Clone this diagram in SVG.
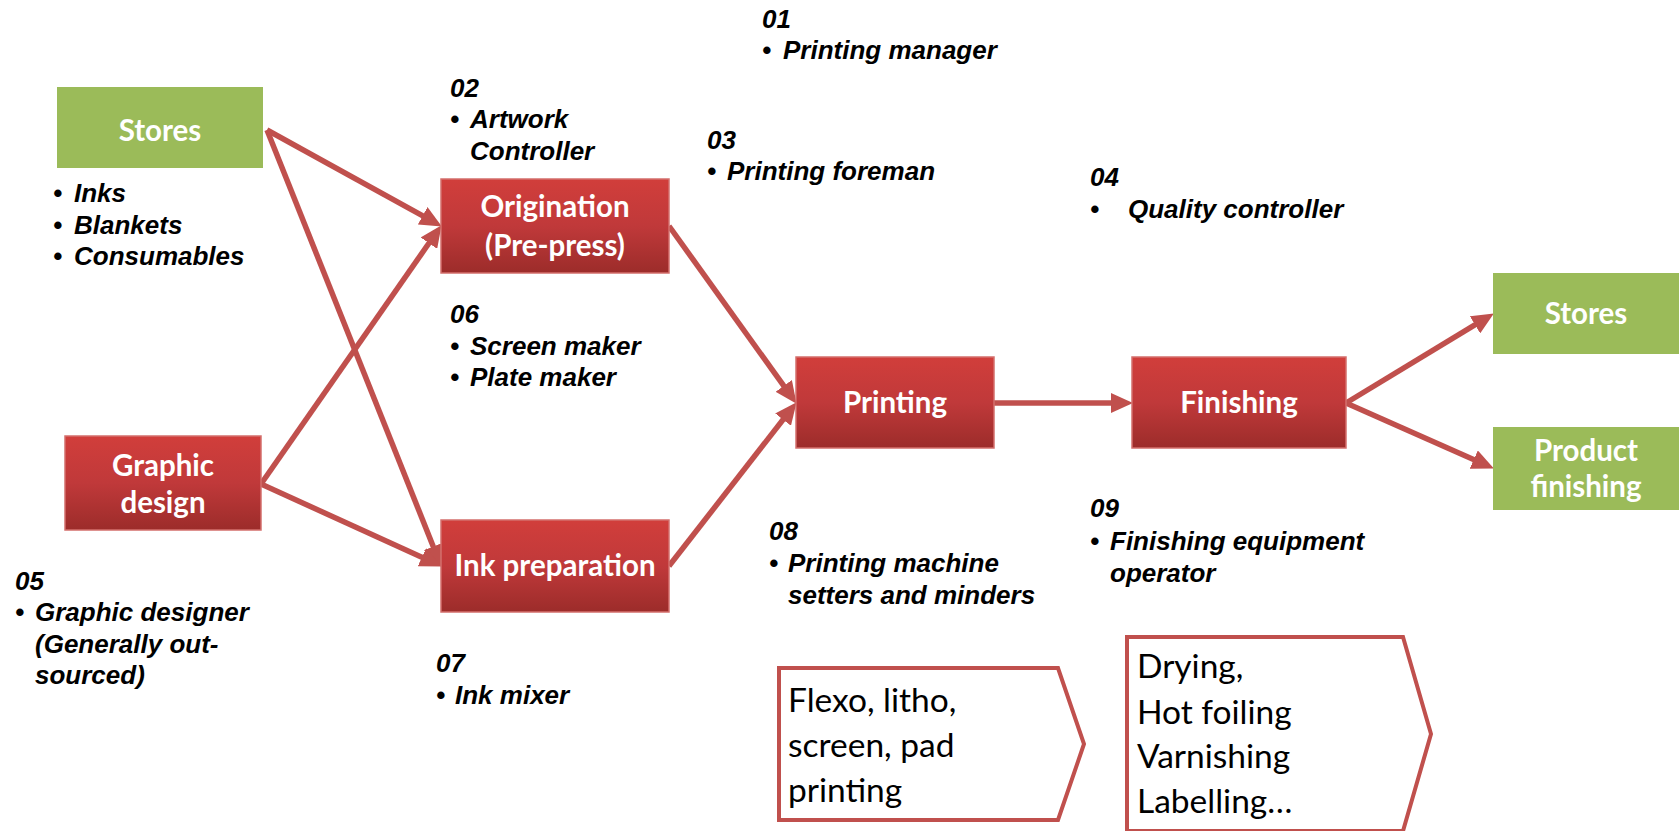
<svg xmlns="http://www.w3.org/2000/svg" width="1679" height="831" viewBox="0 0 1679 831">
<defs>
<linearGradient id="redg" x1="0" y1="0" x2="0" y2="1">
<stop offset="0" stop-color="#D13E3B"/>
<stop offset="0.5" stop-color="#C0393A"/>
<stop offset="1" stop-color="#9C2C2A"/>
</linearGradient>
<marker id="ah" markerUnits="userSpaceOnUse" markerWidth="22" markerHeight="20" viewBox="0 0 22 20" refX="9" refY="10" orient="auto">
<path d="M0,0 L22,10 L0,20 z" fill="#C0504D"/>
</marker>
<style>
.red{fill:url(#redg);stroke:#D46F6C;stroke-width:1.5}
.green{fill:#9BBB59}
.bt{font-family:Lato,"Open Sans",sans-serif;font-weight:bold;font-size:29.5px;fill:#FFFFFF;text-anchor:middle}
.lab{font-family:"Liberation Sans",Arial,sans-serif;font-weight:bold;font-style:italic;font-size:26px;fill:#000000}
.pt{font-family:Lato,"Open Sans",sans-serif;font-size:33.5px;fill:#000000}
.pent{fill:#FFFFFF;stroke:#C0504D;stroke-width:4}
.con{stroke:#C0504D;stroke-width:5.5;fill:none;marker-end:url(#ah)}
</style>
</defs>
<rect width="1679" height="831" fill="#FFFFFF"/>

<g id="connectors">
<line class="con" x1="267" y1="130" x2="430.5" y2="220.2"/>
<line class="con" x1="267" y1="130" x2="436.6" y2="554.9"/>
<line class="con" x1="261" y1="484" x2="434.1" y2="235.8"/>
<line class="con" x1="261" y1="484" x2="430.1" y2="561"/>
<line class="con" x1="669" y1="226" x2="789" y2="393.2"/>
<line class="con" x1="669" y1="566" x2="788.6" y2="412.5"/>
<line class="con" x1="994" y1="403" x2="1120" y2="403"/>
<line class="con" x1="1346" y1="403" x2="1482.7" y2="320.2"/>
<line class="con" x1="1346" y1="403" x2="1482" y2="463.2"/>
</g>

<g id="stores-in">
<rect class="green" x="57" y="87" width="206" height="81"/>
<text class="bt" x="160" y="141">Stores</text>
</g>
<g id="graphic-design">
<rect class="red" x="65" y="436" width="196" height="94"/>
<text class="bt" x="163" y="476">Graphic</text>
<text class="bt" x="163" y="513">design</text>
</g>
<g id="origination">
<rect class="red" x="441" y="179" width="228" height="94"/>
<text class="bt" x="555" y="217">Origination</text>
<text class="bt" x="555" y="256">(Pre-press)</text>
</g>
<g id="ink-preparation">
<rect class="red" x="441" y="520" width="228" height="92"/>
<text class="bt" x="555" y="576">Ink preparation</text>
</g>
<g id="printing">
<rect class="red" x="796" y="357" width="198" height="91"/>
<text class="bt" x="895" y="413">Printing</text>
</g>
<g id="finishing">
<rect class="red" x="1132" y="357" width="214" height="91"/>
<text class="bt" x="1239" y="413">Finishing</text>
</g>
<g id="stores-out">
<rect class="green" x="1493" y="273" width="186" height="81"/>
<text class="bt" x="1586" y="324">Stores</text>
</g>
<g id="product-finishing">
<rect class="green" x="1493" y="427" width="186" height="83"/>
<text class="bt" x="1586" y="461">Product</text>
<text class="bt" x="1586" y="497">finishing</text>
</g>

<g id="printing-methods">
<path class="pent" d="M779,668 L1058,668 L1084,744 L1058,820 L779,820 z"/>
<text class="pt" x="788" y="712">Flexo, litho,</text>
<text class="pt" x="788" y="757">screen, pad</text>
<text class="pt" x="788" y="802">printing</text>
</g>
<g id="finishing-methods">
<path class="pent" d="M1127,637 L1403,637 L1431,734 L1403,831 L1127,831 z"/>
<text class="pt" x="1137" y="678">Drying,</text>
<text class="pt" x="1137" y="724">Hot foiling</text>
<text class="pt" x="1137" y="768">Varnishing</text>
<text class="pt" x="1137" y="813">Labelling…</text>
</g>

<g id="label-01">
<text class="lab" x="762" y="28">01</text>
<text class="lab" x="762" y="59">•</text>
<text class="lab" x="783" y="59">Printing manager</text>
</g>
<g id="label-02">
<text class="lab" x="450" y="97">02</text>
<text class="lab" x="450" y="128">•</text>
<text class="lab" x="470" y="128">Artwork</text>
<text class="lab" x="470" y="160">Controller</text>
</g>
<g id="label-03">
<text class="lab" x="707" y="149">03</text>
<text class="lab" x="707" y="180">•</text>
<text class="lab" x="727" y="180">Printing foreman</text>
</g>
<g id="label-04">
<text class="lab" x="1090" y="186">04</text>
<text class="lab" x="1090" y="218">•</text>
<text class="lab" x="1128" y="218">Quality controller</text>
</g>
<g id="label-stores">
<text class="lab" x="53" y="202">•</text>
<text class="lab" x="74" y="202">Inks</text>
<text class="lab" x="53" y="234">•</text>
<text class="lab" x="74" y="234">Blankets</text>
<text class="lab" x="53" y="265">•</text>
<text class="lab" x="74" y="265">Consumables</text>
</g>
<g id="label-06">
<text class="lab" x="450" y="323">06</text>
<text class="lab" x="450" y="355">•</text>
<text class="lab" x="470" y="355">Screen maker</text>
<text class="lab" x="450" y="386">•</text>
<text class="lab" x="470" y="386">Plate maker</text>
</g>
<g id="label-05">
<text class="lab" x="15" y="590">05</text>
<text class="lab" x="15" y="621">•</text>
<text class="lab" x="35" y="621">Graphic designer</text>
<text class="lab" x="35" y="653">(Generally out-</text>
<text class="lab" x="35" y="684">sourced)</text>
</g>
<g id="label-07">
<text class="lab" x="436" y="672">07</text>
<text class="lab" x="436" y="704">•</text>
<text class="lab" x="455" y="704">Ink mixer</text>
</g>
<g id="label-08">
<text class="lab" x="769" y="540">08</text>
<text class="lab" x="769" y="572">•</text>
<text class="lab" x="788" y="572">Printing machine</text>
<text class="lab" x="788" y="604">setters and minders</text>
</g>
<g id="label-09">
<text class="lab" x="1090" y="517">09</text>
<text class="lab" x="1090" y="550">•</text>
<text class="lab" x="1110" y="550">Finishing equipment</text>
<text class="lab" x="1110" y="582">operator</text>
</g>
</svg>
